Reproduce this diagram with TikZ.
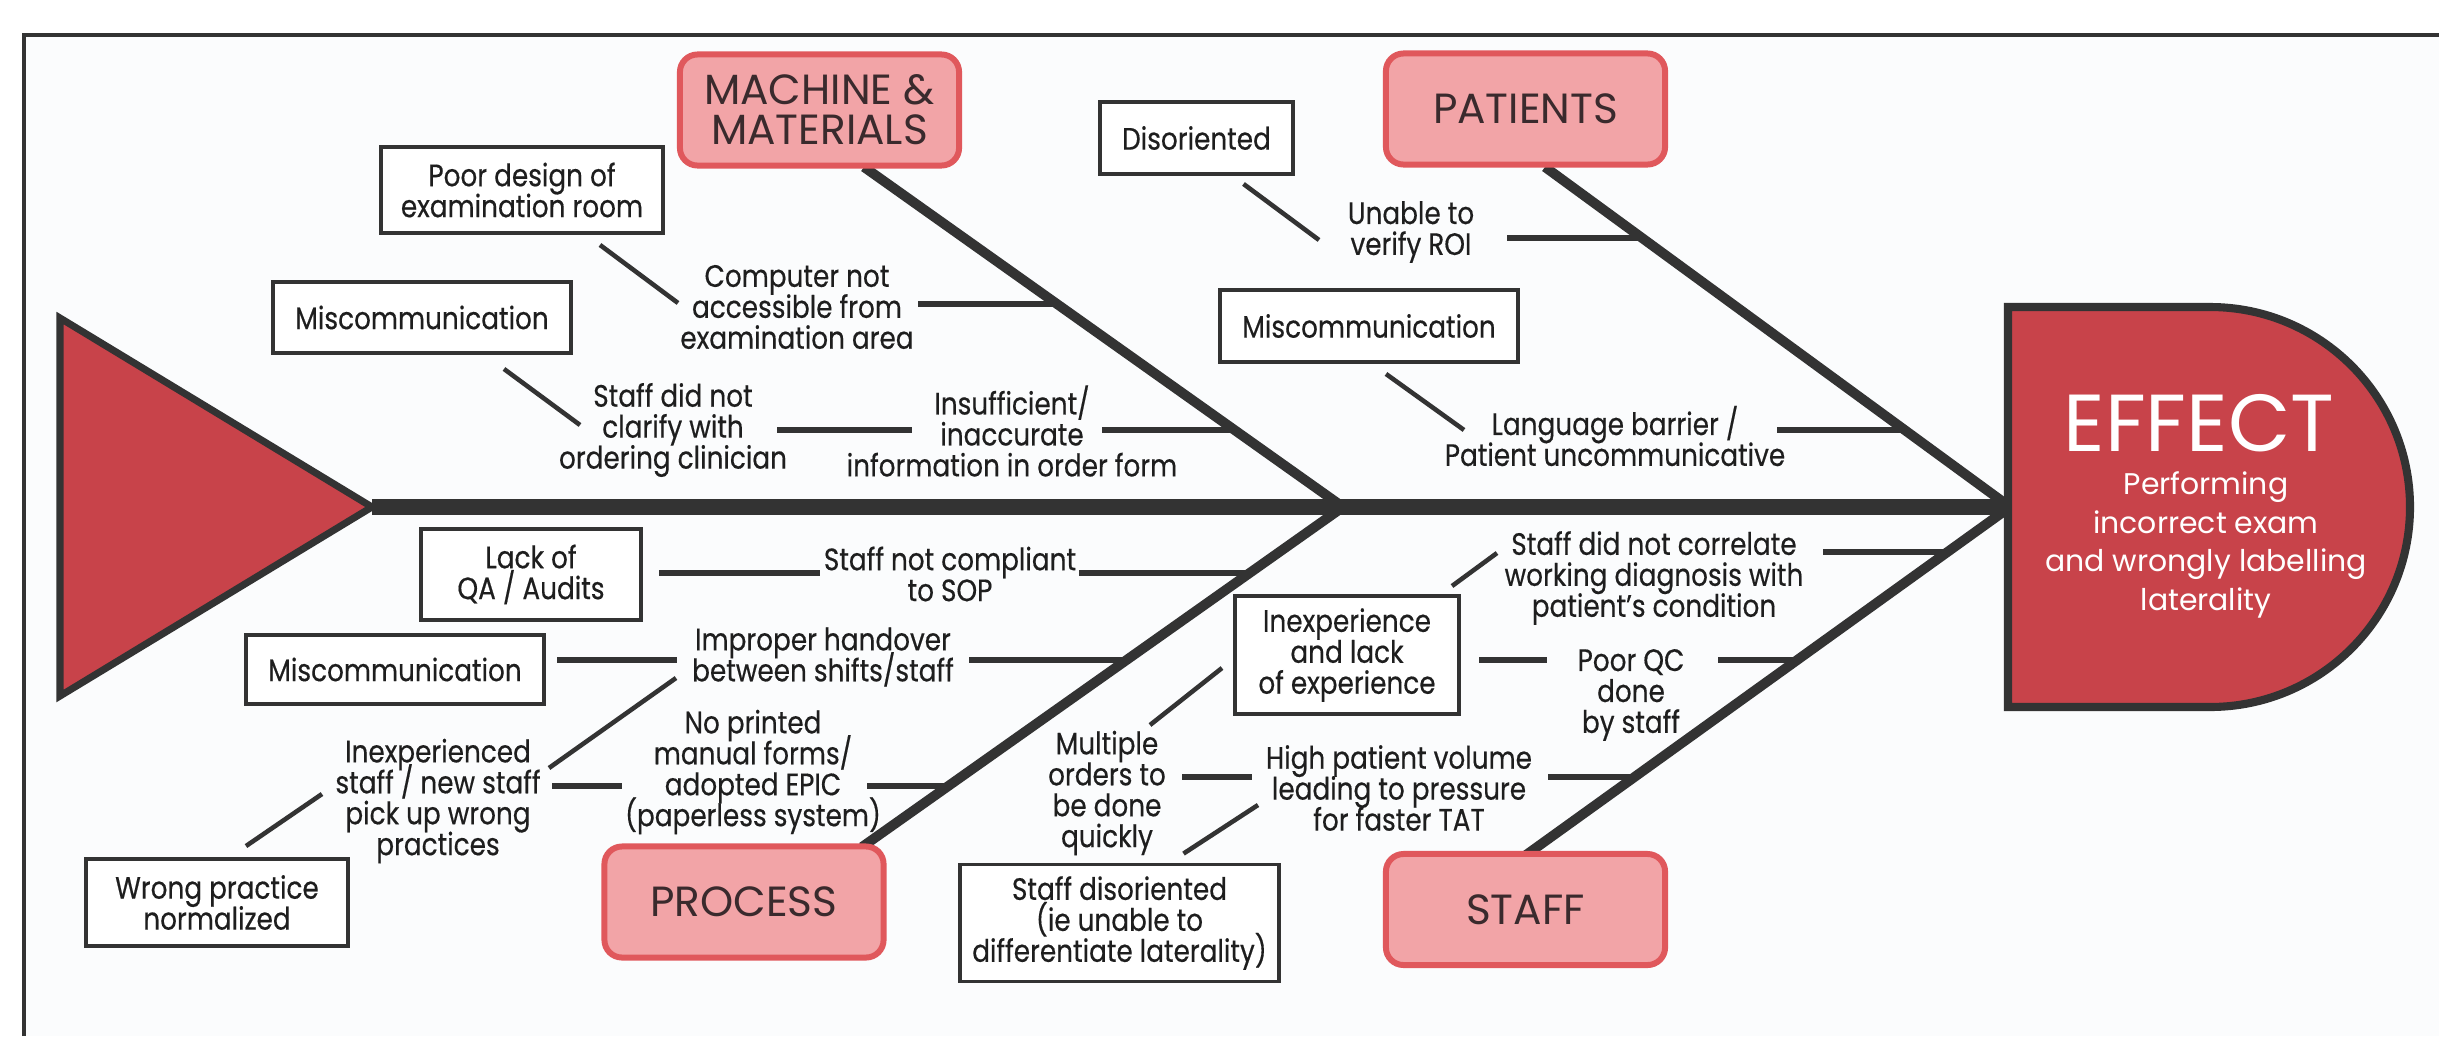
\documentclass[tikz,border=0pt]{standalone}
\usepackage{fontspec}
\setmainfont{Poppins}[FakeStretch=0.85, FakeBold=0.4]
\newfontfamily\effectfont{Poppins}
\definecolor{bonegray}{HTML}{333333}
\definecolor{headred}{HTML}{C8434A}
\definecolor{catfill}{HTML}{F2A4A7}
\definecolor{catline}{HTML}{E0585C}
\definecolor{paper}{HTML}{FBFCFD}
\definecolor{inkgray}{HTML}{1E1E1E}
\definecolor{catink}{HTML}{3A2A2D}

\begin{document}
\lineskiplimit=-10pt
\begin{tikzpicture}[x=0.01cm, y=-0.01cm,
	catbox/.style={draw=catline, fill=catfill, line width=1.7pt, rounded corners=5pt, minimum width=2.79cm, minimum height=1.11cm, align=center, text=catink, font=\effectfont\fontsize{12}{11.4}\selectfont},
	causebox/.style={draw=bonegray, fill=white, line width=1.1pt, align=center, text=inkgray, font=\fontsize{8.8}{8.8}\selectfont},
	lbl/.style={align=center, inner sep=0pt, text=inkgray, font=\fontsize{8.8}{8.8}\selectfont},
	spine/.style={draw=bonegray, line width=4.8pt},
	bone/.style={draw=bonegray, line width=2.8pt},
	twig/.style={draw=bonegray, line width=1.7pt},
	link/.style={draw=bonegray, line width=1.3pt}]
	\useasboundingbox (0,0) rectangle (2439,1036);
	\fill [white] (0,0) rectangle (2439,1036);
	\fill [paper] (24,35) rectangle (2439,1036);
	\draw [bonegray, line width=0.9pt] (24,1036) -- (24,35) -- (2439,35);
	\coordinate (tip) at (372,507);
	\coordinate (jm) at (1343,507);
	\coordinate (je) at (2010,507);
	\coordinate (mb) at (864,167);
	\coordinate (pb) at (1545,167);
	\coordinate (rb) at (862,847);
	\coordinate (sb) at (1526,855);
	\coordinate (m1) at (1056,304);
	\coordinate (m2) at (1234,430);
	\coordinate (p1) at (1642,238);
	\coordinate (p2) at (1905,430);
	\coordinate (r1) at (1250,573);
	\coordinate (r2) at (1127,660);
	\coordinate (r3) at (948,786);
	\coordinate (s1) at (1947,552);
	\coordinate (s2) at (1797,660);
	\coordinate (s3) at (1634,777);
	\filldraw [fill=headred, draw=bonegray, line width=2pt] (60,318) -- (tip) -- (60,696) -- cycle;
	\draw [spine] (tip) -- (je);
	\draw [bone] (mb) -- (jm) -- (rb);
	\draw [bone] (pb) -- (je) -- (sb);
	\filldraw [fill=headred, draw=bonegray, line width=2.3pt] (2008,307) -- (2210,307) arc (-90:90:200) -- (2008,707) -- cycle;
	\node [text=white, inner sep=0pt, font=\effectfont\fontsize{23}{23}\selectfont] (efftitle) at (2199,423) {EFFECT};
	\node [text=white, inner sep=0pt, align=center, font=\effectfont\fontsize{8.5}{11}\selectfont] (effsub) at (2206,545) {Performing\\incorrect exam\\and wrongly labelling\\laterality};
	\node [catbox] (mach) at (819.5,110) {MACHINE \&\\MATERIALS};
	\node [catbox] (pat) at (1525.5,109) {PATIENTS};
	\node [catbox] (proc) at (744,902) {PROCESS};
	\node [catbox] (staff) at (1525.5,909.5) {STAFF};
	\node [causebox, minimum width=2.82cm, minimum height=0.86cm] (design) at (522,190) {Poor design of\\examination room};
	\node [causebox, minimum width=2.98cm, minimum height=0.71cm] (misca) at (422,317.5) {Miscommunication};
	\node [causebox, minimum width=1.93cm, minimum height=0.72cm] (disor) at (1196.5,138) {Disoriented};
	\node [causebox, minimum width=2.98cm, minimum height=0.72cm] (miscb) at (1369,326) {Miscommunication};
	\node [causebox, minimum width=2.20cm, minimum height=0.91cm] (qa) at (531,574.5) {Lack of\\QA / Audits};
	\node [causebox, minimum width=2.98cm, minimum height=0.69cm] (miscc) at (395,669.5) {Miscommunication};
	\node [causebox, minimum width=2.62cm, minimum height=0.87cm] (wrong) at (217,902.5) {Wrong practice\\normalized};
	\node [causebox, minimum width=2.24cm, minimum height=1.18cm] (inexp) at (1347,655) {Inexperience\\and lack\\of experience};
	\node [causebox, minimum width=3.19cm, minimum height=1.08cm] (sdis) at (1119.5,923) {Staff disoriented\\(ie unable to\\differentiate laterality)};
	\node [lbl] (comp) at (797,307) {Computer not\\accessible from\\examination area};
	\node [lbl] (clar) at (673,430) {Staff did not\\clarify with\\ordering clinician};
	\node [lbl] (insuf) at (1012,431) {Insufficient/\\inaccurate\\information in order form};
	\node [lbl] (roi) at (1411,232) {Unable to\\verify ROI};
	\node [lbl] (lang) at (1615,436) {Language barrier /\\Patient uncommunicative};
	\node [lbl] (sop) at (950,574) {Staff not compliant\\to SOP};
	\node [lbl] (hand) at (823,657) {Improper handover\\between shifts/staff};
	\node [lbl] (epic) at (753,772) {No printed\\manual forms/\\adopted EPIC\\(paperless system)};
	\node [lbl] (newst) at (438,801) {Inexperienced\\staff / new staff\\pick up wrong\\practices};
	\node [lbl] (corr) at (1654,578) {Staff did not correlate\\working diagnosis with\\patient’s condition};
	\node [lbl] (qc) at (1631,695) {Poor QC\\done\\by staff};
	\node [lbl] (mult) at (1107,793) {Multiple\\orders to\\be done\\quickly};
	\node [lbl] (vol) at (1399,788) {High patient volume\\leading to pressure\\for faster TAT};
	\draw [twig] ([shift={(121,0)}]comp.center |- m1) -- (m1);
	\draw [twig] ([shift={(104,0)}]clar.center |- m2) -- ([shift={(-100,0)}]insuf.center |- m2);
	\draw [twig] ([shift={(90,0)}]insuf.center |- m2) -- (m2);
	\draw [twig] ([shift={(96,0)}]roi.center |- p1) -- (p1);
	\draw [twig] ([shift={(162,0)}]lang.center |- p2) -- (p2);
	\draw [twig] ([shift={(16,0)}]qa.east |- r1) -- ([shift={(-130,0)}]sop.center |- r1);
	\draw [twig] ([shift={(129,0)}]sop.center |- r1) -- (r1);
	\draw [twig] ([shift={(11,0)}]miscc.east |- r2) -- ([shift={(-146,0)}]hand.center |- r2);
	\draw [twig] ([shift={(146,0)}]hand.center |- r2) -- (r2);
	\draw [twig] ([shift={(114,0)}]newst.center |- r3) -- ([shift={(-131,0)}]epic.center |- r3);
	\draw [twig] ([shift={(114,0)}]epic.center |- r3) -- (r3);
	\draw [twig] ([shift={(169,0)}]corr.center |- s1) -- (s1);
	\draw [twig] ([shift={(18,0)}]inexp.east |- s2) -- ([shift={(-84,0)}]qc.center |- s2);
	\draw [twig] ([shift={(87,0)}]qc.center |- s2) -- (s2);
	\draw [twig] ([shift={(75,0)}]mult.center |- s3) -- ([shift={(-147,0)}]vol.center |- s3);
	\draw [twig] ([shift={(149,0)}]vol.center |- s3) -- (s3);
	\draw [link] ([shift={(78,10)}]design.south) -- ([shift={(-119,-4)}]comp.center);
	\draw [link] ([shift={(82,14)}]misca.south) -- ([shift={(-93,-5)}]clar.center);
	\draw [link] ([shift={(47,8)}]disor.south) -- ([shift={(-92,8)}]roi.center);
	\draw [link] ([shift={(17,10)}]miscb.south) -- ([shift={(-151,-6)}]lang.center);
	\draw [link] ([shift={(29,-11)}]wrong.north) -- ([shift={(-116,-7)}]newst.center);
	\draw [link] ([shift={(111,-33)}]newst.center) -- ([shift={(-147,21)}]hand.center);
	\draw [link] ([shift={(-9,-8)}]inexp.north east) -- ([shift={(-157,-25)}]corr.center);
	\draw [link] ([shift={(43,-68)}]mult.center) -- ([shift={(-11,13)}]inexp.west);
	\draw [link] ([shift={(64,-9)}]sdis.north) -- ([shift={(-141,17)}]vol.center);
\end{tikzpicture}
\end{document}
